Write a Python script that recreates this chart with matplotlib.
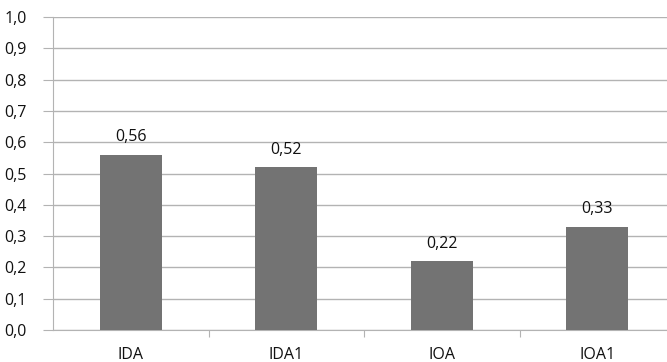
import matplotlib.pyplot as plt
from matplotlib.ticker import FuncFormatter

# index values per category
categories = ['IDA', 'IDA1', 'IOA', 'IOA1']
values = [0.56, 0.52, 0.22, 0.33]

plt.rcParams['font.family'] = ['Open Sans', 'DejaVu Sans']

fig = plt.figure(figsize=(6.67, 3.62), dpi=100)
# axis runs slightly past the right edge of the image
ax = fig.add_axes([53 / 667, 32 / 362, 622 / 667, 313 / 362])

x = range(len(categories))
bars = ax.bar(x, values, width=0.4, color='#737373', zorder=3)

for bar, v in zip(bars, values):
    ax.text(bar.get_x() + bar.get_width() / 2, v + 0.03, f'{v:.2f}'.replace('.', ','),
            ha='center', va='bottom', fontsize=11.5, color='#111111')

ax.set_xlim(-0.5, len(categories) - 0.5)
ax.set_ylim(0, 1.0)
ax.set_yticks([i / 10 for i in range(11)])
ax.yaxis.set_major_formatter(FuncFormatter(lambda v, p: f'{v:.1f}'.replace('.', ',')))
ax.yaxis.grid(True, color='#b3b3b3', linewidth=1, zorder=0)

ax.set_xticks([i + 0.5 for i in range(len(categories) - 1)], minor=False)
ax.set_xticklabels([])
ax.set_xticks(list(x), minor=True)
ax.set_xticklabels(categories, minor=True)
ax.tick_params(axis='x', which='minor', length=0, pad=12, labelsize=11.5, labelcolor='#111111')
ax.tick_params(axis='x', which='major', length=5, direction='out', color='#b3b3b3')
ax.tick_params(axis='y', length=7, direction='out', color='#b3b3b3', pad=12,
               labelsize=11.5, labelcolor='#111111')

for side in ['top', 'right']:
    ax.spines[side].set_visible(False)
ax.spines['left'].set_color('#b3b3b3')
ax.spines['bottom'].set_color('#b3b3b3')

fig.savefig('out.png', dpi=100)
